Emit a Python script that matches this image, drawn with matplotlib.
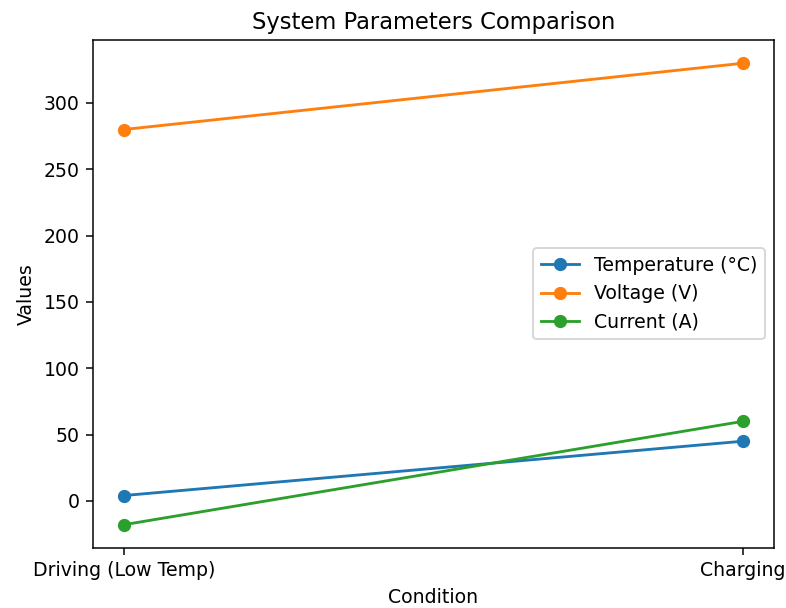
import matplotlib
matplotlib.use("Agg")
import matplotlib.pyplot as plt

conditions = ["Driving (Low Temp)", "Charging"]
temperature = [4, 45]
voltage = [280, 330]
current = [-18, 60]

DPI = 136
fig, ax = plt.subplots(figsize=(786/DPI, 608/DPI), dpi=DPI)
ax.plot(conditions, temperature, marker='o', label='Temperature (°C)')
ax.plot(conditions, voltage, marker='o', label='Voltage (V)')
ax.plot(conditions, current, marker='o', label='Current (A)')
ax.set_title('System Parameters Comparison')
ax.set_xlabel('Condition')
ax.set_ylabel('Values')
ax.legend(loc='center right')
fig.subplots_adjust(left=0.118, right=0.985, top=0.934, bottom=0.099)
fig.savefig('out.png', dpi=DPI)
